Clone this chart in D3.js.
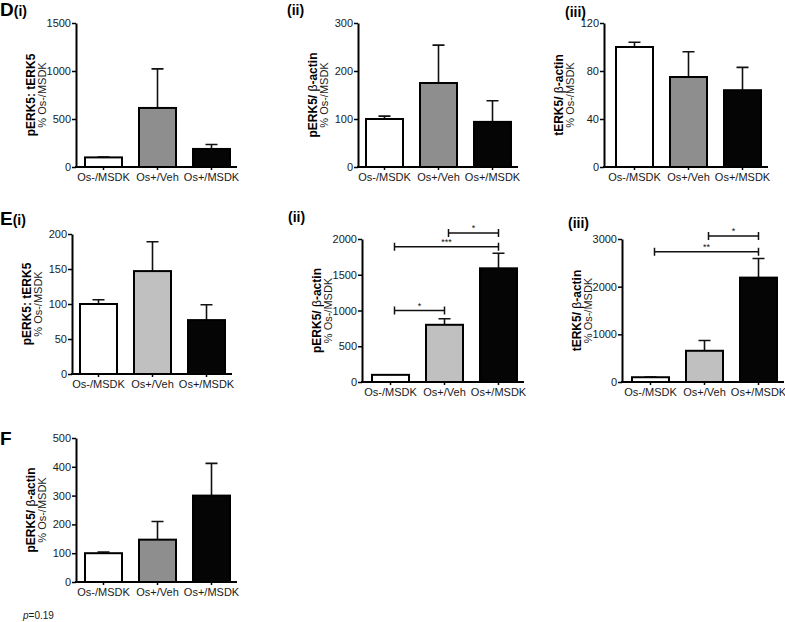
<!DOCTYPE html>
<html>
<head>
<meta charset="utf-8">
<script src="https://cdn.jsdelivr.net/npm/d3@7"></script>
<style>
body { margin: 0; background: #fff; }
svg { display: block; font-family: "Liberation Sans", Arial, sans-serif; }
</style>
</head>
<body>
<div id="app"></div>
<script>
var categories = ['Os-/MSDK', 'Os+/Veh', 'Os+/MSDK'];

// D panels
var dI_mean = [100, 615, 188];
var dI_sem = [3, 407, 47];
var dII_mean = [100, 175, 94];
var dII_sem = [6, 79, 44];
var dIII_mean = [100, 75, 64];
var dIII_sem = [4, 21, 19];

// E panels
var eI_mean = [100, 147, 77];
var eI_sem = [6, 42, 22];
var eII_mean = [100, 800, 1590];
var eII_sem = [2, 85, 210];
var eIII_mean = [100, 655, 2190];
var eIII_sem = [2, 215, 400];

// F panel
var f_mean = [100, 147, 300];
var f_sem = [4, 63, 112];

// y axis tick labels
var dI_ticks = [0, 500, 1000, 1500];
var dII_ticks = [0, 100, 200, 300];
var dIII_ticks = [0, 40, 80, 120];
var eI_ticks = [0, 50, 100, 150, 200];
var eII_ticks = [0, 500, 1000, 1500, 2000];
var eIII_ticks = [0, 1000, 2000, 3000];
var f_ticks = [0, 100, 200, 300, 400, 500];

// significance brackets: [from, to, height, label]
var eII_sig = [[0, 1, 1000, '*'], [0, 2, 1890, '***'], [1, 2, 2085, '*']];
var eIII_sig = [[0, 2, 2730, '**'], [1, 2, 3065, '*']];

var grayD = '#8e8e8e', grayE = '#c0c0c0';

var panels = [
    {mean: dI_mean, sem: dI_sem, ticks: dI_ticks, ax: 76, top: 23, bottom: 167, bar1: 85,
        gray: grayD, label: [['pERK5: tERK5', 1]], tag: ['D', '(i)'], tagX: 0, tagY: 16},
    {mean: dII_mean, sem: dII_sem, ticks: dII_ticks, ax: 358, top: 23, bottom: 167, bar1: 366,
        gray: grayD, label: [['pERK5/ ', 1], ['\u03b2', 0], ['-actin', 1]], tag: ['', '(ii)'], tagX: 287, tagY: 15},
    {mean: dIII_mean, sem: dIII_sem, ticks: dIII_ticks, ax: 604, top: 23, bottom: 167, bar1: 616,
        gray: grayD, label: [['tERK5/ ', 1], ['\u03b2', 0], ['-actin', 1]], tag: ['', '(iii)'], tagX: 565, tagY: 17},
    {mean: eI_mean, sem: eI_sem, ticks: eI_ticks, ax: 72, top: 234, bottom: 374, bar1: 80,
        gray: grayE, label: [['pERK5: tERK5', 1]], tag: ['E', '(i)'], tagX: 0, tagY: 225},
    {mean: eII_mean, sem: eII_sem, ticks: eII_ticks, ax: 362, top: 239, bottom: 382, bar1: 372,
        gray: grayE, label: [['pERK5/ ', 1], ['\u03b2', 0], ['-actin', 1]], tag: ['', '(ii)'], tagX: 288, tagY: 222, sig: eII_sig},
    {mean: eIII_mean, sem: eIII_sem, ticks: eIII_ticks, ax: 622, top: 239, bottom: 382, bar1: 632,
        gray: grayE, label: [['tERK5/ ', 1], ['\u03b2', 0], ['-actin', 1]], tag: ['', '(iii)'], tagX: 568, tagY: 228, sig: eIII_sig},
    {mean: f_mean, sem: f_sem, ticks: f_ticks, ax: 76, top: 438, bottom: 582, bar1: 85,
        gray: grayD, label: [['pERK5/ ', 1], ['\u03b2', 0], ['-actin', 1]], tag: ['F', ''], tagX: 0, tagY: 445}
];

var svg = d3.select('#app')
    .append('svg')
    .attr('width', 785)
    .attr('height', 622);

panels.forEach(function (p) {
    var g = svg.append('g');
    var colors = ['#ffffff', p.gray, '#050505'];

    var x = d3.scaleBand()
        .domain(categories)
        .range([p.bar1, p.bar1 + 145])
        .paddingInner(0.315)
        .paddingOuter(0);
    var y = d3.scaleLinear()
        .domain([0, p.ticks[p.ticks.length - 1]])
        .range([p.bottom, p.top]);

    // error bars (upper only)
    g.selectAll('.err')
        .data(p.mean)
        .enter()
        .append('path')
        .attr('d', function (d, i) {
            var cx = x(categories[i]) + x.bandwidth() / 2;
            var yt = y(d + p.sem[i]);
            return 'M' + cx + ',' + y(d) + 'V' + yt + 'M' + (cx - 6) + ',' + yt + 'H' + (cx + 6);
        })
        .attr('stroke', '#111')
        .attr('stroke-width', 1.6)
        .attr('fill', 'none');

    g.selectAll('rect')
        .data(p.mean)
        .enter()
        .append('rect')
        .attr('x', function (d, i) { return x(categories[i]) })
        .attr('y', function (d) { return y(d) })
        .attr('width', x.bandwidth())
        .attr('height', function (d) { return p.bottom - y(d) })
        .attr('fill', function (d, i) { return colors[i] })
        .attr('stroke', '#000')
        .attr('stroke-width', 2);

    // axes
    var ya = g.append('g')
        .attr('transform', 'translate(' + p.ax + ',0)')
        .call(d3.axisLeft(y).tickValues(p.ticks).tickSize(4).tickSizeOuter(0).tickPadding(1).tickFormat(d3.format('d')));
    var xa = g.append('g')
        .attr('transform', 'translate(0,' + p.bottom + ')')
        .call(d3.axisBottom(x).tickSize(3).tickSizeOuter(0).tickPadding(3));
    xa.select('.domain').remove();
    g.append('line')
        .attr('x1', p.ax - 1).attr('x2', p.bar1 + 152)
        .attr('y1', p.bottom).attr('y2', p.bottom)
        .attr('stroke', '#000').attr('stroke-width', 2);
    [ya, xa].forEach(function (a) {
        a.selectAll('text').attr('font-size', 11).attr('fill', '#1a1a1a')
            .attr('font-family', '"Liberation Sans", Arial, sans-serif');
        a.selectAll('line').attr('stroke', '#000').attr('stroke-width', 1.5);
        a.select('.domain').attr('stroke', '#000').attr('stroke-width', 2);
    });

    // y labels
    var yc = (p.top + p.bottom) / 2;
    var t1 = g.append('text')
        .attr('transform', 'translate(' + (p.ax - 41) + ',' + yc + ') rotate(-90)')
        .attr('text-anchor', 'middle')
        .attr('font-size', 12)
        .attr('fill', '#000');
    p.label.forEach(function (s) {
        t1.append('tspan').text(s[0]).attr('font-weight', s[1] ? 'bold' : 'normal');
    });
    g.append('text')
        .attr('transform', 'translate(' + (p.ax - 30) + ',' + yc + ') rotate(-90)')
        .attr('text-anchor', 'middle')
        .attr('font-size', 11)
        .attr('fill', '#1a1a1a')
        .text('% Os-/MSDK');

    // panel tag
    var tg = g.append('text')
        .attr('x', p.tagX).attr('y', p.tagY)
        .attr('font-weight', 'bold')
        .attr('fill', '#000');
    tg.append('tspan').attr('font-size', 19).text(p.tag[0]);
    tg.append('tspan').attr('font-size', 14).text(p.tag[1]);

    // significance brackets
    if (p.sig) {
        p.sig.forEach(function (s) {
            var xa1 = x(categories[s[0]]) + x.bandwidth() / 2 + 4;
            var xa2 = x(categories[s[1]]) + x.bandwidth() / 2;
            var yy = y(s[2]);
            g.append('path')
                .attr('d', 'M' + xa1 + ',' + (yy - 4) + 'V' + (yy + 4) + 'M' + xa1 + ',' + yy + 'H' + xa2
                    + 'M' + xa2 + ',' + (yy - 4) + 'V' + (yy + 4))
                .attr('stroke', '#111')
                .attr('stroke-width', 1.5)
                .attr('fill', 'none');
            g.append('text')
                .attr('x', (xa1 + xa2) / 2).attr('y', yy - 2)
                .attr('text-anchor', 'middle')
                .attr('font-size', 9)
                .attr('fill', '#111')
                .text(s[3]);
        });
    }
});

var pt = svg.append('text')
    .attr('x', 23).attr('y', 619)
    .attr('font-size', 10)
    .attr('fill', '#1a1a1a');
pt.append('tspan').attr('font-style', 'italic').text('p');
pt.append('tspan').text('=0.19');
</script>
</body>
</html>
